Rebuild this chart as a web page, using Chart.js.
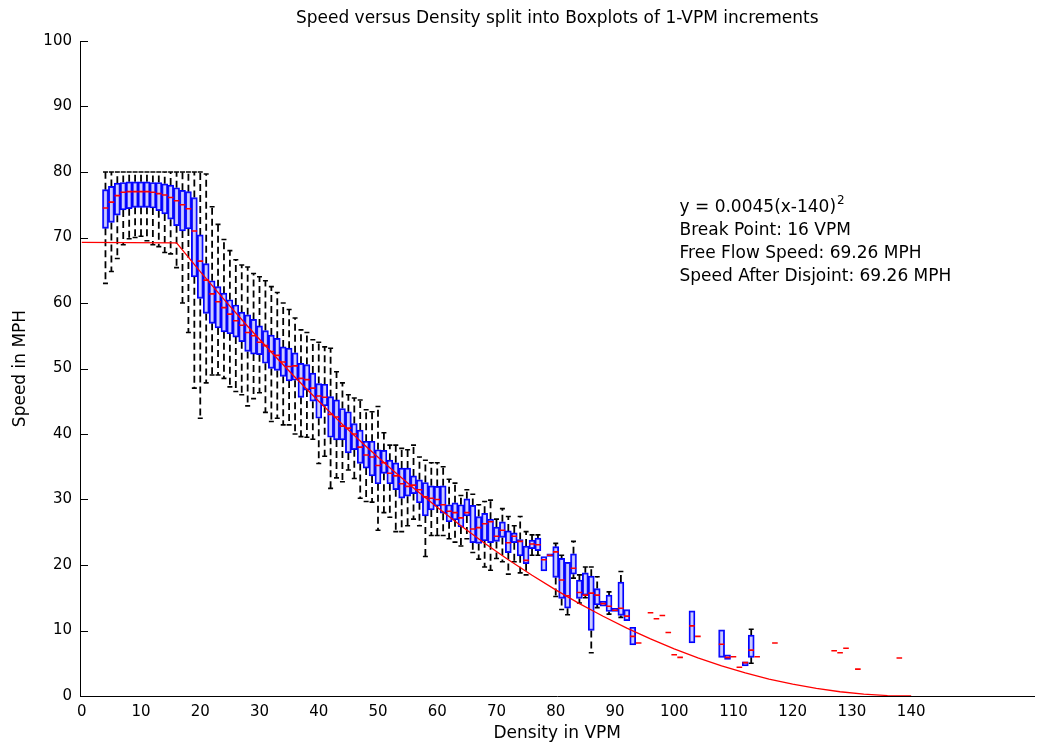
<!DOCTYPE html>
<html>
<head>
<meta charset="utf-8">
<script src="https://cdn.jsdelivr.net/npm/chart.js@4.4.0/dist/chart.umd.min.js"></script>
<style>
  html, body { margin: 0; padding: 0; background: #fff; }
</style>
</head>
<body>
<canvas id="boxChart" width="1040" height="744"></canvas>
<script>
// one box per 1-VPM density bin
const density = [4, 5, 6, 7, 8, 9, 10, 11, 12, 13, 14, 15, 16, 17, 18, 19, 20, 21, 22, 23,
  24, 25, 26, 27, 28, 29, 30, 31, 32, 33, 34, 35, 36, 37, 38, 39, 40, 41, 42, 43,
  44, 45, 46, 47, 48, 49, 50, 51, 52, 53, 54, 55, 56, 57, 58, 59, 60, 61, 62, 63,
  64, 65, 66, 67, 68, 69, 70, 71, 72, 73, 74, 75, 76, 77, 78, 79, 80, 81, 82, 83,
  84, 85, 86, 87, 88, 89, 90, 91, 92, 93, 103, 108, 109, 112, 113];
const whiskerLow = [63.0, 64.8, 66.8, 68.9, 69.8, 70.0, 70.2, 69.5, 68.9, 68.6, 67.7, 67.5, 65.4, 60.0, 55.5, 47.0, 42.4, 47.8, 49.0, 49.0,
  48.5, 47.2, 46.5, 46.0, 44.3, 45.4, 46.3, 43.3, 41.9, 42.4, 41.4, 41.4, 40.0, 39.6, 39.5, 39.2, 35.5, 36.6, 31.7, 33.3,
  32.7, 34.5, 33.2, 30.2, 29.7, 29.6, 25.3, 28.0, 27.3, 25.1, 25.1, 26.0, 27.0, 26.0, 21.3, 24.5, 24.5, 24.5, 24.0, 23.5,
  22.9, 24.0, 21.9, 20.9, 19.7, 19.2, 21.0, 20.5, 18.6, 20.5, 18.8, 18.5, 21.5, 21.5, 19.1, 21.3, 15.2, 13.2, 12.4, 18.0,
  14.2, 15.0, 6.6, 13.5, 13.7, 12.5, 12.9, 12.0, 11.5, 7.8, 8.1, 5.9, 5.6, 4.6, 5.0];
const q1 = [71.4, 72.3, 73.4, 74.2, 74.4, 74.6, 74.6, 74.6, 74.5, 74.1, 73.6, 72.8, 71.8, 71.0, 71.3, 64.0, 60.7, 58.4, 56.9, 56.2,
  55.6, 55.3, 54.8, 54.1, 52.6, 52.2, 52.1, 50.8, 50.0, 49.7, 48.8, 48.1, 48.2, 45.6, 46.7, 45.0, 42.4, 44.3, 39.5, 39.1,
  39.1, 37.1, 37.6, 35.5, 34.8, 33.6, 32.4, 34.0, 32.4, 31.5, 30.2, 30.5, 30.9, 29.5, 27.5, 28.4, 29.0, 27.9, 26.6, 26.9,
  25.8, 27.5, 23.4, 23.3, 23.7, 23.4, 23.6, 24.2, 21.9, 23.4, 21.4, 20.2, 22.5, 22.2, 19.1, 21.3, 18.1, 14.9, 13.4, 18.6,
  14.9, 15.4, 10.0, 13.9, 13.7, 12.9, 12.9, 12.3, 11.5, 7.8, 8.1, 5.9, 5.6, 4.6, 5.9];
const median = [74.5, 75.4, 76.4, 76.9, 77.0, 77.0, 77.0, 77.0, 76.9, 76.7, 76.5, 76.1, 75.6, 75.0, 74.4, 71.0, 66.4, 63.5, 61.4, 60.2,
  59.3, 58.3, 57.3, 56.6, 55.5, 55.0, 54.0, 53.5, 52.6, 52.0, 51.0, 50.3, 50.4, 48.5, 48.3, 47.0, 45.8, 45.6, 43.0, 42.6,
  41.2, 40.9, 40.0, 38.0, 36.8, 36.5, 35.2, 35.6, 34.0, 33.6, 32.4, 32.0, 32.2, 31.5, 30.4, 30.2, 30.0, 29.2, 28.2, 28.0,
  27.2, 28.0, 25.5, 25.7, 26.3, 26.6, 24.4, 25.3, 23.4, 24.4, 23.6, 20.7, 23.2, 23.1, 20.8, 21.5, 22.0, 17.7, 15.3, 19.5,
  15.8, 15.4, 15.7, 15.4, 14.1, 13.7, 13.1, 13.4, 12.2, 9.1, 10.7, 7.9, 5.9, 5.1, 7.0];
const q3 = [77.3, 77.8, 78.3, 78.4, 78.5, 78.5, 78.5, 78.5, 78.4, 78.4, 78.2, 78.0, 77.6, 77.2, 77.0, 76.1, 70.4, 66.0, 63.4, 62.5,
  61.5, 60.5, 59.7, 58.6, 58.2, 57.5, 56.5, 55.8, 55.1, 54.6, 53.3, 53.1, 52.4, 50.8, 50.6, 49.3, 47.7, 47.6, 45.7, 45.2,
  43.9, 43.4, 41.6, 40.6, 38.9, 38.9, 37.6, 37.5, 36.0, 35.6, 34.8, 34.8, 33.6, 33.0, 32.6, 32.1, 32.0, 32.1, 29.2, 29.5,
  29.2, 30.1, 29.1, 27.4, 27.9, 27.0, 25.8, 26.6, 25.2, 24.9, 23.9, 22.9, 23.8, 24.1, 21.3, 21.7, 22.8, 21.0, 20.4, 21.7,
  17.7, 18.8, 18.3, 16.4, 14.5, 15.4, 13.4, 17.4, 13.2, 10.5, 13.0, 10.1, 6.3, 5.2, 9.3];
const whiskerHigh = [80, 80, 80, 80, 80, 80, 80, 80, 80, 80, 80, 80, 80, 80, 80, 80, 80, 79.7, 74.7, 72.0,
  69.7, 68.0, 66.6, 65.8, 65.5, 64.5, 64.0, 63.4, 62.5, 61.6, 60.0, 59.0, 57.7, 55.9, 55.5, 54.4, 54.0, 53.3, 53.1, 49.5,
  47.8, 46.0, 45.5, 45.2, 43.7, 43.4, 44.2, 40.2, 38.3, 38.3, 37.8, 37.6, 38.3, 36.5, 36.0, 35.6, 35.6, 35.0, 33.1, 32.5,
  30.6, 31.5, 30.8, 29.2, 29.7, 29.9, 27.0, 28.6, 27.4, 26.0, 27.4, 25.1, 24.6, 24.6, 21.3, 21.7, 23.3, 21.5, 20.4, 23.6,
  18.5, 19.7, 19.7, 18.2, 14.5, 15.9, 13.4, 19.0, 13.2, 10.5, 13.0, 10.1, 6.3, 5.2, 10.2];

// bins holding a single reading (only the median mark shows)
const singleDensity = [94, 96, 97, 98, 99, 100, 101, 104, 110, 111, 114, 117, 127, 128, 129, 131, 138];
const singleSpeed = [8.1, 12.7, 11.8, 12.3, 9.7, 6.3, 5.9, 9.1, 6.0, 4.4, 6.0, 8.1, 6.9, 6.6, 7.3, 4.1, 5.8];

// fitted speed-density curve
const fitDensity = [0, 16, 20, 24, 28, 32, 36, 40, 44, 48, 52, 56, 60, 64, 68, 72, 76, 80,
  84, 88, 92, 96, 100, 104, 108, 112, 116, 120, 124, 128, 132, 136, 140];
const fitSpeed = [69.26, 69.19, 64.8, 60.55, 56.45, 52.49, 48.67, 45.0, 41.47, 38.09, 34.85, 31.75, 28.8, 25.99, 23.33, 20.81, 18.43, 16.2,
  14.11, 12.17, 10.37, 8.71, 7.2, 5.83, 4.61, 3.53, 2.59, 1.8, 1.15, 0.65, 0.29, 0.07, 0];

const xTicks = [0, 10, 20, 30, 40, 50, 60, 70, 80, 90, 100, 110, 120, 130, 140];
const yTicks = [0, 10, 20, 30, 40, 50, 60, 70, 80, 90, 100];

const noteLines = ['y = 0.0045(x-140)', 'Break Point: 16 VPM', 'Free Flow Speed: 69.26 MPH', 'Speed After Disjoint: 69.26 MPH'];

const FONT = '"DejaVu Sans", sans-serif';

// whiskers: q3->high and q1->low, null breaks the line between them
const whiskerPts = [];
const capPts = [];
density.forEach((d, i) => {
    whiskerPts.push({ x: d, y: q3[i] }, { x: d, y: whiskerHigh[i] }, { x: d, y: null });
    whiskerPts.push({ x: d, y: q1[i] }, { x: d, y: whiskerLow[i] }, { x: d, y: null });
    if (whiskerHigh[i] > q3[i]) capPts.push({ x: d, y: whiskerHigh[i] });
    if (whiskerLow[i] < q1[i]) capPts.push({ x: d, y: whiskerLow[i] });
});

const boxPts = density.map((d, i) => ({ x: d, y: [q1[i], q3[i]] }));
const medianPts = density.map((d, i) => ({ x: d, y: median[i] }))
    .concat(singleDensity.map((d, i) => ({ x: d, y: singleSpeed[i] })));
const fitPts = fitDensity.map((d, i) => ({ x: d, y: fitSpeed[i] }));

// MATLAB style inward y ticks + the fit note
const overlay = {
    id: 'overlay',
    afterDatasetsDraw(chart) {
        const { ctx, scales: { x, y } } = chart;
        ctx.save();
        ctx.strokeStyle = '#000';
        ctx.lineWidth = 1;
        yTicks.forEach(v => {
            const py = Math.round(y.getPixelForValue(v)) + 0.5;
            ctx.beginPath();
            ctx.moveTo(x.left, py);
            ctx.lineTo(x.left + 8, py);
            ctx.stroke();
        });

        ctx.fillStyle = '#000';
        ctx.textBaseline = 'middle';
        ctx.font = '17px ' + FONT;
        const tx = x.getPixelForValue(100.9);
        const ty = y.getPixelForValue(74.5);
        noteLines.forEach((line, i) => ctx.fillText(line, tx, ty + i * 23));
        const w = ctx.measureText(noteLines[0]).width;
        ctx.font = '12px ' + FONT;
        ctx.fillText('2', tx + w + 1, ty - 7);
        ctx.restore();
    }
};

new Chart(document.getElementById('boxChart'), {
    type: 'bar',
    data: {
        datasets: [
            {
                type: 'line',
                data: fitPts,
                borderColor: '#ff0000',
                borderWidth: 1.3,
                pointRadius: 0,
                tension: 0,
                order: 0
            },
            {
                type: 'line',
                data: medianPts,
                showLine: false,
                pointStyle: 'line',
                pointRadius: 2.8,
                pointBorderWidth: 1.6,
                pointBorderColor: '#ff0000',
                order: 1
            },
            {
                type: 'bar',
                data: boxPts,
                barThickness: 6,
                borderWidth: 1.3,
                borderColor: '#0000ff',
                backgroundColor: 'rgba(110, 110, 255, 0.35)',
                borderSkipped: false,
                grouped: false,
                order: 2
            },
            {
                type: 'line',
                data: capPts,
                showLine: false,
                pointStyle: 'line',
                pointRadius: 2.5,
                pointBorderWidth: 1.6,
                pointBorderColor: '#000',
                order: 3
            },
            {
                type: 'line',
                data: whiskerPts,
                borderColor: '#000',
                borderWidth: 1.8,
                borderDash: [7, 4],
                pointRadius: 0,
                spanGaps: false,
                tension: 0,
                order: 4
            }
        ]
    },
    options: {
        responsive: false,
        animation: false,
        devicePixelRatio: 1,
        layout: { padding: 0 },
        plugins: {
            legend: { display: false },
            tooltip: { enabled: false },
            title: {
                display: true,
                fullSize: false,
                text: 'Speed versus Density split into Boxplots of 1-VPM increments',
                color: '#000',
                font: { family: FONT, size: 17, weight: 'normal' },
                padding: { top: 8, bottom: 12.6 }
            }
        },
        scales: {
            x: {
                type: 'linear',
                min: -0.3,
                max: 160.8,
                offset: false,
                afterBuildTicks: (scale) => { scale.ticks = xTicks.map(v => ({ value: v })); },
                afterFit: (scale) => { scale.height = 48; },
                grid: { display: false, drawTicks: false },
                border: { display: true, color: '#000', width: 1 },
                ticks: { color: '#000', font: { family: FONT, size: 15 }, padding: 7, maxRotation: 0, autoSkip: false },
                title: {
                    display: true,
                    text: 'Density in VPM',
                    color: '#000',
                    font: { family: FONT, size: 17 },
                    padding: { top: 0, bottom: 0 }
                }
            },
            y: {
                min: 0,
                max: 100,
                afterBuildTicks: (scale) => { scale.ticks = yTicks.map(v => ({ value: v })); },
                afterFit: (scale) => { scale.width = 80; },
                grid: { display: false, drawTicks: false },
                border: { display: true, color: '#000', width: 1 },
                ticks: { color: '#000', font: { family: FONT, size: 15 }, padding: 8 },
                title: {
                    display: true,
                    text: 'Speed in MPH',
                    color: '#000',
                    font: { family: FONT, size: 17 },
                    padding: { top: 10, bottom: 0 }
                }
            }
        }
    },
    plugins: [overlay]
});
</script>
</body>
</html>
